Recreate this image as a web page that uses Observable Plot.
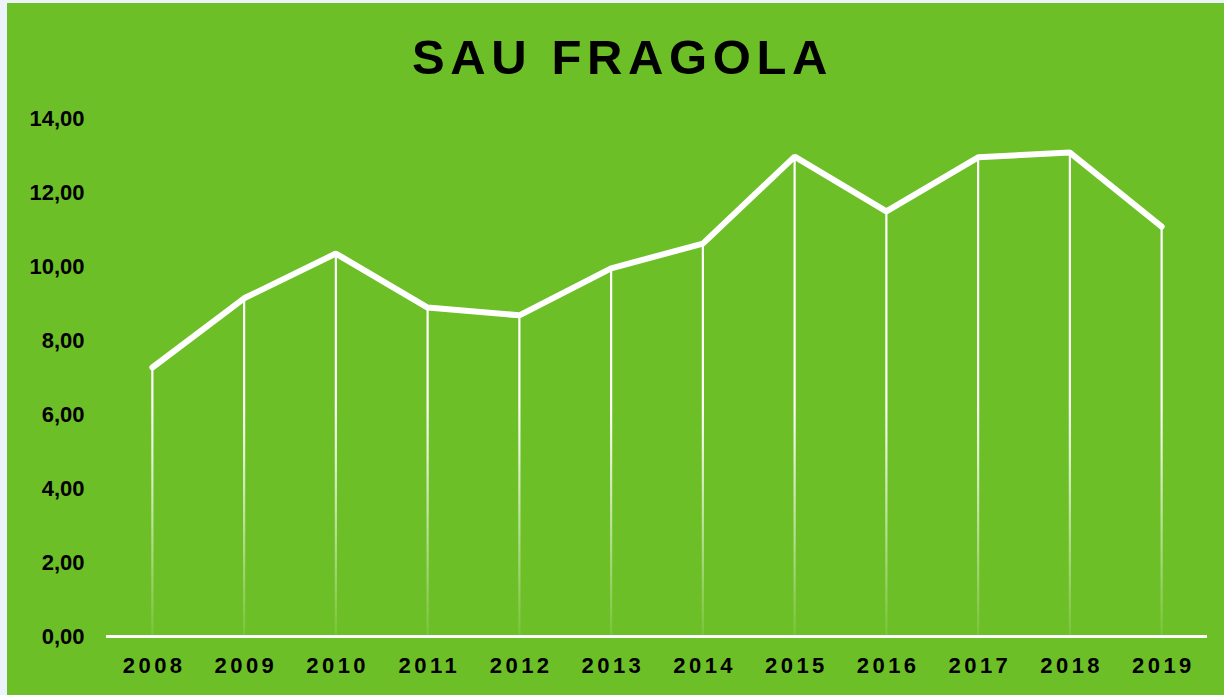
<!DOCTYPE html>
<html>
<head>
<meta charset="utf-8">
<script src="https://cdn.jsdelivr.net/npm/d3@7"></script>
<script src="https://cdn.jsdelivr.net/npm/@observablehq/plot@0.6"></script>
<style>
  html, body { margin: 0; padding: 0; background: #edf3fb; width: 1224px; height: 695px; overflow: hidden; }
  #card { position: absolute; left: 7px; top: 3px; width: 1217px; height: 692px; background: #6dbf27; }
  #title { position: absolute; left: 0; top: 0; width: 1217px; height: 95px; text-align: center;
           font-family: "Liberation Sans", Arial, sans-serif; font-weight: bold; font-size: 49px;
           letter-spacing: 5.6px; line-height: 108px; color: #000; padding-left: 14px; box-sizing: border-box; }
  #chart { position: absolute; left: 0; top: 95px; }
  #chart svg { overflow: visible; }
</style>
</head>
<body>
<div id="card">
  <div id="title">SAU FRAGOLA</div>
  <div id="chart"></div>
</div>
<script>
const years = ["2008","2009","2010","2011","2012","2013","2014","2015","2016","2017","2018","2019"];
const values = [7.27, 9.14, 10.35, 8.89, 8.68, 9.95, 10.62, 12.97, 11.49, 12.95, 13.08, 11.08];
const yTicks = [0, 2, 4, 6, 8, 10, 12, 14];

const data = years.map((y, i) => ({year: y, value: values[i]}));
const fmt = v => v.toFixed(2).replace(".", ",");

const W = 1217, H = 597, mTop = 20, mBottom = 59, mLeft = 99, mRight = 17;

const plot = Plot.plot({
  width: W,
  height: H,
  marginTop: mTop,
  marginBottom: mBottom,
  marginLeft: mLeft,
  marginRight: mRight,
  style: {background: "transparent", fontFamily: "Liberation Sans, Arial, sans-serif", color: "#000"},
  x: {type: "point", domain: years, padding: 0.5, round: false, label: null},
  y: {domain: [0, 14], label: null},
  marks: [
    () => {
      const ns = "http://www.w3.org/2000/svg";
      const defs = document.createElementNS(ns, "defs");
      const g = document.createElementNS(ns, "linearGradient");
      g.setAttribute("id", "dropGrad");
      g.setAttribute("gradientUnits", "userSpaceOnUse");
      g.setAttribute("x1", "0"); g.setAttribute("x2", "0");
      g.setAttribute("y1", String(mTop)); g.setAttribute("y2", String(H - mBottom));
      [[0, 1], [0.55, 1], [1, 0.08]].forEach(([o, a]) => {
        const s = document.createElementNS(ns, "stop");
        s.setAttribute("offset", String(o));
        s.setAttribute("stop-color", "#ffffff");
        s.setAttribute("stop-opacity", String(a));
        g.appendChild(s);
      });
      defs.appendChild(g);
      return defs;
    },
    Plot.ruleX(data, {x: "year", y1: 0, y2: "value", stroke: "url(#dropGrad)", strokeWidth: 2.2}),
    Plot.ruleY([0], {stroke: "#ffffff", strokeWidth: 3}),
    Plot.line(data, {x: "year", y: "value", stroke: "#ffffff", strokeWidth: 6, strokeLinecap: "round", strokeLinejoin: "miter"}),
    Plot.axisY(yTicks, {tickSize: 0, tickPadding: 22, tickFormat: fmt, fontSize: 22, fontWeight: "bold", fill: "#000"}),
    Plot.axisX(years, {tickSize: 0, tickPadding: 21, fontSize: 22, fontWeight: "bold", fill: "#000"})
  ]
});
d3.select(plot).selectAll("[aria-label='x-axis tick label'] text").style("letter-spacing", "3.5px").attr("dx", "1.75");
document.getElementById("chart").appendChild(plot);
</script>
</body>
</html>
